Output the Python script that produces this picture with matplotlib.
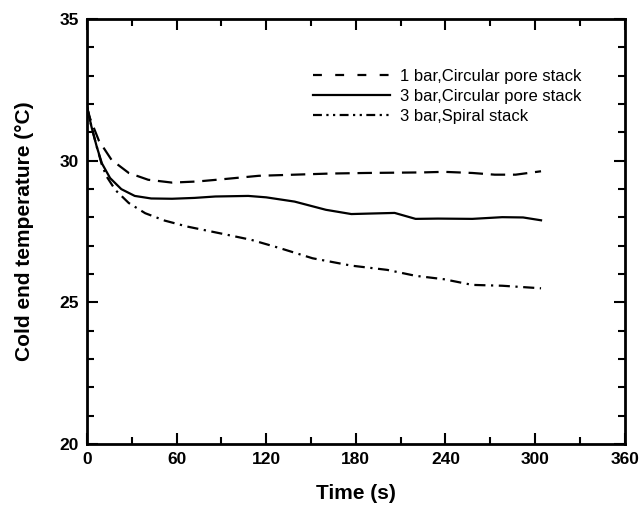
import matplotlib
matplotlib.use("Agg")
import matplotlib.pyplot as plt
from matplotlib.lines import Line2D
from matplotlib.ticker import MultipleLocator

plt.rcParams['font.family'] = ['Liberation Sans', 'DejaVu Sans']

# --- data ---
t_1bar = [0, 2, 8, 16.5, 28, 41, 57, 74, 91, 115, 139, 163, 187, 225, 239, 258,
          273, 287, 304]
T_1bar = [31.9, 31.5, 30.7, 30.02, 29.56, 29.32, 29.22, 29.26, 29.34, 29.46, 29.5,
          29.54, 29.56, 29.58, 29.6, 29.56, 29.5, 29.5, 29.62]

t_3bar = [0, 3, 6.5, 10, 15.5, 23, 32, 43, 57, 72, 86, 108, 120, 139, 160, 177,
          191, 206, 220, 235, 258, 278, 292, 304]
T_3bar = [31.9, 31.2, 30.5, 29.9, 29.38, 28.99, 28.75, 28.66, 28.65, 28.68, 28.73,
          28.75, 28.7, 28.55, 28.26, 28.11, 28.13, 28.15, 27.94, 27.95, 27.94, 28.0,
          27.99, 27.89]

t_spiral = [0, 3, 6.5, 10, 13, 19, 28, 39, 52, 67, 91, 110, 129, 151, 177, 201,
            220, 239, 258, 278, 304]
T_spiral = [31.9, 31.2, 30.5, 29.85, 29.45, 28.96, 28.5, 28.14, 27.88, 27.67,
            27.41, 27.2, 26.91, 26.55, 26.29, 26.14, 25.93, 25.81, 25.61, 25.58,
            25.49]

labels = ['1 bar,Circular pore stack', '3 bar,Circular pore stack', '3 bar,Spiral stack']

LW = 1.6
dash_curve = (0, (6.5, 3.5))
dashdot_curve = (0, (5, 2.5, 1, 2.5))

fig = plt.figure(figsize=(6.44, 5.09), dpi=100)
ax = fig.add_axes([0.135, 0.128, 0.835, 0.835])

ax.plot(t_1bar, T_1bar, color='black', lw=LW, linestyle=dash_curve)
ax.plot(t_3bar, T_3bar, color='black', lw=LW, linestyle='-')
ax.plot(t_spiral, T_spiral, color='black', lw=LW, linestyle=dashdot_curve)

ax.set_xlim(0, 360)
ax.set_ylim(20, 35)
ax.xaxis.set_major_locator(MultipleLocator(60))
ax.xaxis.set_minor_locator(MultipleLocator(30))
ax.yaxis.set_major_locator(MultipleLocator(5))
ax.yaxis.set_minor_locator(MultipleLocator(1))
ax.tick_params(which='both', direction='in', top=True, right=True, width=1.5)
ax.tick_params(which='major', length=8, labelsize=12.5, pad=6)
ax.tick_params(which='minor', length=5)
for lab in ax.get_xticklabels() + ax.get_yticklabels():
    lab.set_fontweight('bold')
for sp in ax.spines.values():
    sp.set_linewidth(2.0)

ax.set_xlabel('Time (s)', fontsize=15, fontweight='bold', labelpad=12)
ax.set_ylabel('Cold end temperature (\u00b0C)', fontsize=15, fontweight='bold', labelpad=18)

# legend handles with the shorter dash pattern seen in the key
handles = [Line2D([], [], color='black', lw=LW, linestyle=(0, (4, 6))),
           Line2D([], [], color='black', lw=LW, linestyle='-'),
           Line2D([], [], color='black', lw=LW, linestyle=(0, (4, 2, 1, 2, 1, 2)))]
ax.legend(handles, labels, loc='upper left', bbox_to_anchor=(0.421, 0.883), frameon=False,
          fontsize=12, handlelength=4.6, handletextpad=0.6, labelspacing=0.3,
          borderaxespad=0, borderpad=0)

fig.savefig('out.png', dpi=100)
